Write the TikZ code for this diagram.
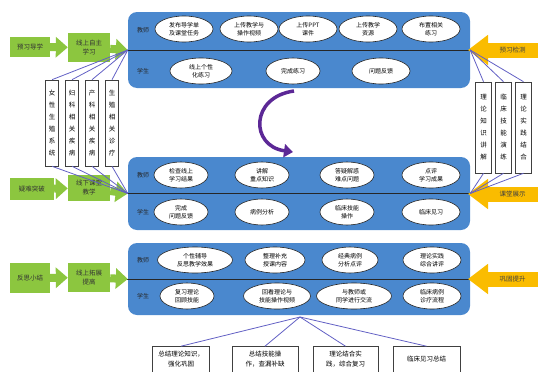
\documentclass[tikz,border=0pt]{standalone}
\usepackage{fontspec}
\newfontfamily\cjk{Noto Sans CJK SC}
\usetikzlibrary{shapes.geometric, arrows.meta}
\definecolor{panelblue}{RGB}{74,136,206}
\definecolor{stagegreen}{RGB}{140,198,63}
\definecolor{checkyellow}{RGB}{250,188,0}
\definecolor{linkblue}{RGB}{98,96,196}
\definecolor{arcpurple}{RGB}{92,40,150}

\begin{document}
\begin{tikzpicture}[x=1pt,y=-1pt]
    \tikzset{panel/.style = {rectangle, rounded corners=9pt, fill=panelblue,
                            minimum width=342pt}}
    \tikzset{oval/.style = {ellipse, draw=black!85, fill=white, line width=0.6pt,
                           minimum width=58pt, minimum height=26pt, inner sep=0pt,
                           align=center, font=\cjk\fontsize{6}{7.5}\selectfont}}
    \tikzset{role/.style = {font=\cjk\fontsize{6}{7}\selectfont, text=black!85}}
    \tikzset{stage/.style = {rectangle, fill=stagegreen, inner sep=0pt, align=center,
                            text=black!80, font=\cjk\fontsize{6.5}{9}\selectfont}}
    \tikzset{stagearrow/.style = {draw=stagegreen, line width=8pt,
                                 -{Triangle[width=20pt,length=12pt]}}}
    \tikzset{topic/.style = {rectangle, draw=black!75, fill=white, line width=0.6pt,
                            inner sep=0pt, align=center,
                            font=\cjk\fontsize{6.5}{12}\selectfont}}
    \tikzset{feed/.style = {draw=linkblue, line width=0.8pt}}
    \tikzset{check/.style = {rectangle, fill=checkyellow, minimum width=51pt,
                            minimum height=15pt, inner sep=0pt, text=black!75,
                            font=\cjk\fontsize{6.5}{7}\selectfont}}
    \tikzset{checkarrow/.style = {draw=checkyellow, line width=15pt,
                                 -{Triangle[width=29pt,length=20pt]}}}
    \tikzset{sumbox/.style = {rectangle, draw=black!75, fill=white, line width=0.6pt,
                             minimum height=26pt, inner sep=0pt, align=center,
                             font=\cjk\fontsize{6.5}{10}\selectfont}}

    \useasboundingbox (0,0) rectangle (538,372);

    \node (P1) [panel, minimum height=76pt] at (299,50) {};
    \node (P2) [panel, minimum height=73pt] at (299,193.5) {};
    \node (P3) [panel, minimum height=72pt] at (299,279) {};
    \draw[black!85, line width=0.8pt] ([xshift=-2pt]P1.west) -- (P1.east);
    \draw[black!85, line width=0.8pt] ([xshift=-2pt]P2.west) -- (P2.east);
    \draw[black!85, line width=0.8pt] ([xshift=-2pt]P3.west) -- (P3.east);

    \node (R1) [role] at (143,30) {教师};
    \node (R2) [role] at (143,71) {学生};
    \node (R3) [role] at (143,175) {教师};
    \node (R4) [role] at (143,212) {学生};
    \node (R5) [role] at (143,260) {教师};
    \node (R6) [role] at (143,296) {学生};

    \node (T1) [oval] at (184,29) {发布导学单\\及课堂任务};
    \node (T2) [oval] at (249,29) {上传教学与\\操作视频};
    \node (T3) [oval] at (308,29) {上传PPT\\课件};
    \node (T4) [oval] at (368,29) {上传教学\\资源};
    \node (T5) [oval] at (431,29) {布置相关\\练习};
    \node (S1) [oval, minimum width=62pt] at (201,71) {线上个性\\化练习};
    \node (S2) [oval, minimum width=54pt] at (293,71) {完成练习};
    \node (S3) [oval] at (381,71) {问题反馈};

    \node (T6) [oval, minimum width=54pt] at (181,175) {检查线上\\学习结果};
    \node (T7) [oval, minimum width=54pt] at (262,175) {讲解\\重点知识};
    \node (T8) [oval, minimum width=54pt] at (347,175) {答疑解惑\\难点问题};
    \node (T9) [oval] at (431,175) {点评\\学习成果};
    \node (S4) [oval, minimum width=54pt] at (181,212) {完成\\问题反馈};
    \node (S5) [oval, minimum width=54pt] at (262,212) {病例分析};
    \node (S6) [oval, minimum width=54pt] at (347,212) {临床技能\\操作};
    \node (S7) [oval] at (431,212) {临床见习};

    \node (T10) [oval, minimum width=75pt] at (195,260) {个性辅导\\反思教学效果};
    \node (T11) [oval, minimum width=60pt] at (275,260) {整理补充\\授课内容};
    \node (T12) [oval, minimum width=56pt] at (350,260) {经典病例\\分析点评};
    \node (T13) [oval] at (432,260) {理论实践\\综合讲评};
    \node (S8) [oval, minimum width=54pt] at (187,296) {复习理论\\回顾技能};
    \node (S9) [oval, minimum width=67pt] at (277,296) {回看理论与\\技能操作视频};
    \node (S10) [oval, minimum width=75pt] at (354,296) {与教师或\\同学进行交流};
    \node (S11) [oval] at (432,296) {临床病例\\诊疗流程};

    \node (G1) [stage, minimum width=40pt, minimum height=20pt] at (30,47) {预习导学};
    \node (G2) [stage, minimum width=42pt, minimum height=29pt] at (89,47.5) {线上自主\\学习};
    \node (G3) [stage, minimum width=44pt, minimum height=22pt] at (32,189) {疑难突破};
    \node (G4) [stage, minimum width=42pt, minimum height=26pt] at (89,188) {线下课堂\\教学};
    \node (G5) [stage, minimum width=40pt, minimum height=30pt] at (30,278) {反思小结};
    \node (G6) [stage, minimum width=42pt, minimum height=29pt] at (89,277.5) {线上拓展\\提高};
    \draw[stagearrow] (G1) -- (G2);
    \draw[stagearrow] (G2) -- (P1.west);
    \draw[stagearrow] (G3) -- (G4);
    \draw[stagearrow] (G4) -- (P2.west);
    \draw[stagearrow] (G5) -- (G6);
    \draw[stagearrow] (G6) -- (P3.west);

    \node (L1) [topic, minimum width=13pt, minimum height=86pt] at (52,123) {女\\性\\生\\殖\\系\\统};
    \node (L2) [topic, minimum width=13pt, minimum height=86pt] at (72,123) {妇\\科\\相\\关\\疾\\病};
    \node (L3) [topic, minimum width=13pt, minimum height=86pt] at (92,123) {产\\科\\相\\关\\疾\\病};
    \node (L4) [topic, minimum width=13pt, minimum height=86pt] at (112,123) {生\\殖\\相\\关\\诊\\疗};
    \foreach \n in {L1,L2,L3,L4} {
        \draw[feed] (\n.north) -- (P1.west);
        \draw[feed] (\n.south) -- (P2.west);
    }

    \node (K1) [check] at (512.5,50) {预习检测};
    \node (K2) [check] at (512.5,194) {课堂展示};
    \node (K3) [check] at (512.5,279) {巩固提升};
    \coordinate (K1tip) at (468,50);
    \coordinate (K2tip) at (468,194);
    \coordinate (K3tip) at (468,279);
    \draw[checkarrow] (K1) -- (K1tip);
    \draw[checkarrow] (K2) -- (K2tip);
    \draw[checkarrow] (K3) -- (K3tip);

    \node (M1) [topic, minimum width=16pt, minimum height=91pt] at (483.5,127.5) {理\\论\\知\\识\\讲\\解};
    \node (M2) [topic, minimum width=16pt, minimum height=91pt] at (503.5,127.5) {临\\床\\技\\能\\演\\练};
    \node (M3) [topic, minimum width=16pt, minimum height=91pt] at (523.5,127.5) {理\\论\\实\\践\\结\\合};
    \foreach \n in {M1,M2,M3} {
        \draw[feed] (\n.north) -- (P1.east);
        \draw[feed] (\n.south) -- (P2.east);
    }

    \node (B1) [sumbox, minimum width=57pt] at (181,359.5) {总结理论知识，\\强化巩固};
    \node (B2) [sumbox, minimum width=66pt] at (265,359.5) {总结技能操\\作，查漏补缺};
    \node (B3) [sumbox, minimum width=65pt] at (345.5,359.5) {理论结合实\\践，综合复习};
    \node (B4) [sumbox, minimum width=67pt] at (426.5,359.5) {临床见习总结};
    \coordinate (Hub) at (300,317);
    \draw[feed] (Hub) -- (B1.north);
    \draw[feed] (Hub) -- (B2.north);
    \draw[feed] (Hub) -- (B3.north);
    \draw[feed] (Hub) -- (B4.north);

    \coordinate (ArcA) at (294,91);
    \coordinate (ArcB) at (293,152);
    \draw[arcpurple, line width=3.5pt, -{Triangle[width=13pt,length=9pt]}]
        (ArcA) .. controls (250,97) and (250,146) .. (ArcB);

\end{tikzpicture}
\end{document}
